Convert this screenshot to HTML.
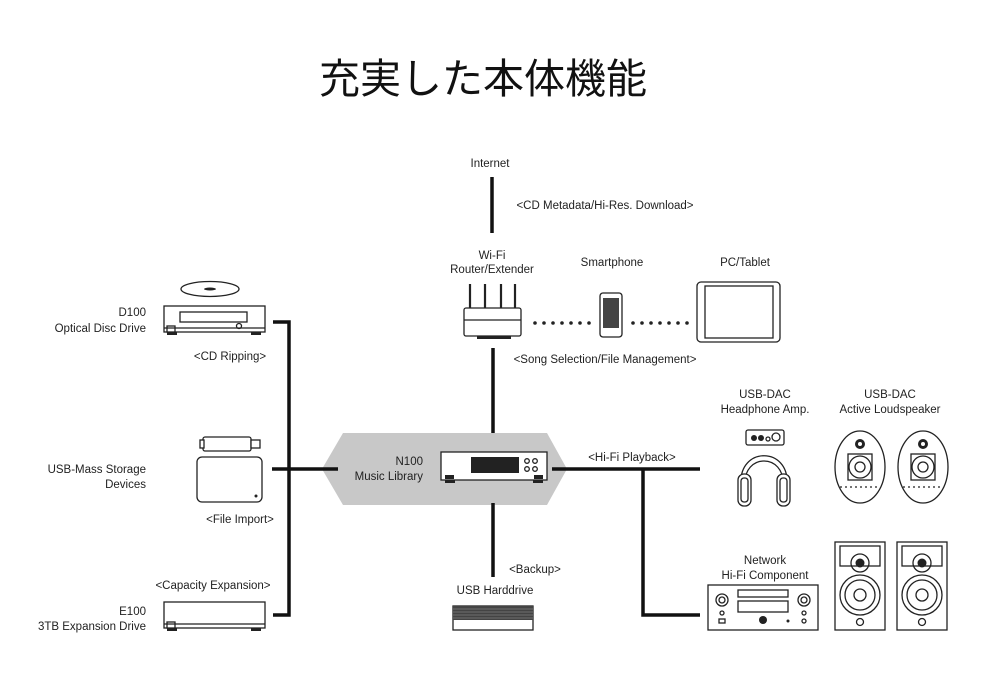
<!DOCTYPE html>
<html><head><meta charset="utf-8"><style>
html,body{margin:0;padding:0;background:#fff;}
svg{display:block;}
text{font-family:"Liberation Sans","Noto Sans CJK JP",sans-serif;fill:#222;font-size:11.5px;}
.s{fill:none;stroke:#222;stroke-width:1.3;}
.w{fill:#fff;stroke:#222;stroke-width:1.3;}
.k{fill:#222;}
</style></head><body>
<svg width="1000" height="700" viewBox="0 0 1000 700" xmlns="http://www.w3.org/2000/svg">
<text x="483" y="93" text-anchor="middle" style="font-size:41px;font-family:'Noto Sans CJK JP',sans-serif;fill:#111">充実した本体機能</text>

<polygon points="322,469 343,433 547,433 567,469 547,505 343,505" fill="#c8c8c8"/>

<g stroke="#111" stroke-width="3.5" fill="none">
<line x1="492" y1="177" x2="492" y2="233"/>
<line x1="493" y1="348" x2="493" y2="433"/>
<line x1="493" y1="503" x2="493" y2="577"/>
<polyline points="273,322 289,322 289,615 273,615"/>
<line x1="272" y1="469" x2="338" y2="469"/>
<line x1="552" y1="469" x2="700" y2="469"/>
<polyline points="643,469 643,615 700,615"/>
</g>
<g class="k">
<circle cx="535" cy="323" r="1.8"/><circle cx="544" cy="323" r="1.8"/><circle cx="553" cy="323" r="1.8"/><circle cx="562" cy="323" r="1.8"/><circle cx="571" cy="323" r="1.8"/><circle cx="580" cy="323" r="1.8"/><circle cx="589" cy="323" r="1.8"/>
<circle cx="633" cy="323" r="1.8"/><circle cx="642" cy="323" r="1.8"/><circle cx="651" cy="323" r="1.8"/><circle cx="660" cy="323" r="1.8"/><circle cx="669" cy="323" r="1.8"/><circle cx="678" cy="323" r="1.8"/><circle cx="687" cy="323" r="1.8"/>
</g>

<text x="490" y="167" text-anchor="middle">Internet</text>
<text x="605" y="209" text-anchor="middle">&lt;CD Metadata/Hi-Res. Download&gt;</text>
<text x="492" y="259" text-anchor="middle">Wi-Fi</text>
<text x="492" y="273" text-anchor="middle">Router/Extender</text>
<text x="612" y="266" text-anchor="middle">Smartphone</text>
<text x="745" y="266" text-anchor="middle">PC/Tablet</text>
<text x="605" y="363" text-anchor="middle">&lt;Song Selection/File Management&gt;</text>
<text x="632" y="461" text-anchor="middle">&lt;Hi-Fi Playback&gt;</text>
<text x="765" y="398" text-anchor="middle">USB-DAC</text>
<text x="765" y="413" text-anchor="middle">Headphone Amp.</text>
<text x="890" y="398" text-anchor="middle">USB-DAC</text>
<text x="890" y="413" text-anchor="middle">Active Loudspeaker</text>
<text x="765" y="564" text-anchor="middle">Network</text>
<text x="765" y="579" text-anchor="middle">Hi-Fi Component</text>
<text x="535" y="573" text-anchor="middle">&lt;Backup&gt;</text>
<text x="495" y="594" text-anchor="middle">USB Harddrive</text>
<text x="423" y="465" text-anchor="end">N100</text>
<text x="423" y="480" text-anchor="end">Music Library</text>
<text x="146" y="316" text-anchor="end">D100</text>
<text x="146" y="332" text-anchor="end">Optical Disc Drive</text>
<text x="230" y="360" text-anchor="middle">&lt;CD Ripping&gt;</text>
<text x="146" y="473" text-anchor="end">USB-Mass Storage</text>
<text x="146" y="488" text-anchor="end">Devices</text>
<text x="240" y="523" text-anchor="middle">&lt;File Import&gt;</text>
<text x="213" y="589" text-anchor="middle">&lt;Capacity Expansion&gt;</text>
<text x="146" y="615" text-anchor="end">E100</text>
<text x="146" y="630" text-anchor="end">3TB Expansion Drive</text>

<ellipse cx="210" cy="289" rx="29" ry="7.5" class="w"/>
<ellipse cx="210" cy="289" rx="6" ry="1.5" class="k"/>
<rect x="164" y="306" width="101" height="26" class="w"/>
<rect x="180" y="312" width="67" height="10" class="w"/>
<rect x="167" y="326" width="8" height="6" class="w"/>
<circle cx="239" cy="326" r="2.5" class="w"/>
<line x1="164" y1="328" x2="265" y2="328" class="s"/>
<rect x="167" y="332" width="10" height="3" class="k"/><rect x="251" y="332" width="10" height="3" class="k"/>

<rect x="203" y="437" width="48" height="14" rx="2" class="w"/>
<rect x="200" y="440" width="4" height="8" class="w"/>
<rect x="251" y="440" width="9" height="8" class="w"/>
<rect x="197" y="457" width="65" height="45" rx="5" class="w"/>
<circle cx="256" cy="496" r="1.5" class="k"/>

<rect x="164" y="602" width="101" height="26" class="w"/>
<rect x="167" y="622" width="8" height="6" class="w"/>
<line x1="164" y1="624" x2="265" y2="624" class="s"/>
<rect x="167" y="628" width="10" height="3" class="k"/><rect x="251" y="628" width="10" height="3" class="k"/>

<g stroke="#222" stroke-width="2.2"><line x1="470" y1="284" x2="470" y2="308"/><line x1="485" y1="284" x2="485" y2="308"/><line x1="501" y1="284" x2="501" y2="308"/><line x1="515" y1="284" x2="515" y2="308"/></g>
<rect x="464" y="308" width="57" height="28" rx="2" class="w"/>
<line x1="464" y1="320" x2="521" y2="320" class="s"/>
<rect x="477" y="336" width="34" height="3" class="k"/>

<rect x="600" y="293" width="22" height="44" rx="3" class="w"/>
<rect x="603" y="298" width="16" height="30" fill="#444"/>

<rect x="697" y="282" width="83" height="60" rx="4" class="w"/>
<rect x="705" y="286" width="68" height="52" class="s"/>

<rect x="441" y="452" width="106" height="28" class="w" stroke-width="2"/>
<rect x="471" y="457" width="48" height="16" class="k"/>
<circle cx="527" cy="461" r="2.3" class="s"/><circle cx="535" cy="461" r="2.3" class="s"/><circle cx="527" cy="469" r="2.3" class="s"/><circle cx="535" cy="469" r="2.3" class="s"/>
<rect x="445" y="475" width="9" height="4" class="k"/><rect x="534" y="475" width="9" height="4" class="k"/>
<rect x="445" y="480" width="10" height="3" class="k"/><rect x="533" y="480" width="10" height="3" class="k"/>

<rect x="453" y="606" width="80" height="24" class="w"/>
<rect x="453" y="606" width="80" height="14" fill="#444"/>
<g stroke="#999" stroke-width="0.6"><line x1="453" y1="609" x2="533" y2="609"/><line x1="453" y1="612" x2="533" y2="612"/><line x1="453" y1="615" x2="533" y2="615"/><line x1="453" y1="618" x2="533" y2="618"/></g>

<rect x="746" y="430" width="38" height="15" rx="2" class="w"/>
<circle cx="754" cy="438" r="3" class="k"/><circle cx="761" cy="438" r="3" class="k"/><circle cx="768" cy="439" r="2" class="s"/><circle cx="776" cy="437" r="4" class="s"/>
<path d="M741,485 C738,446 790,446 787,485" class="s" stroke-width="1.8"/>
<path d="M745,485 C743,453 785,453 783,485" class="s"/>
<rect x="738" y="474" width="13" height="32" rx="6" class="w" stroke-width="1.5"/>
<rect x="777" y="474" width="13" height="32" rx="6" class="w" stroke-width="1.5"/>
<rect x="741" y="478" width="7" height="24" rx="3" class="s"/>
<rect x="780" y="478" width="7" height="24" rx="3" class="s"/>

<g id="as">
<ellipse cx="860" cy="467" rx="25" ry="36" class="w" stroke-width="1.6"/>
<circle cx="860" cy="444" r="5" class="k"/><circle cx="860" cy="444" r="2" fill="#fff"/>
<rect x="848" y="454" width="24" height="26" class="s"/>
<circle cx="860" cy="467" r="11" class="s" stroke-width="2.5"/><circle cx="860" cy="467" r="5" class="s"/>
<line x1="840" y1="487" x2="880" y2="487" class="s" stroke-dasharray="2,3"/>
</g>
<use href="#as" x="63"/>

<rect x="708" y="585" width="110" height="45" class="w"/>
<rect x="738" y="590" width="50" height="7" class="w"/>
<rect x="738" y="601" width="50" height="11" class="w"/>
<circle cx="722" cy="600" r="6" class="s"/><circle cx="722" cy="600" r="3" class="s"/>
<circle cx="804" cy="600" r="6" class="s"/><circle cx="804" cy="600" r="3" class="s"/>
<circle cx="763" cy="620" r="4" class="k"/><circle cx="788" cy="621" r="1.5" class="k"/>
<circle cx="722" cy="613" r="2" class="s"/><circle cx="804" cy="613" r="2" class="s"/><circle cx="804" cy="621" r="2" class="s"/>
<rect x="719" y="619" width="6" height="4" class="s"/>

<g id="bs">
<rect x="835" y="542" width="50" height="88" class="w" stroke-width="1.5"/>
<rect x="840" y="546" width="40" height="20" class="s"/>
<circle cx="860" cy="563" r="9" class="s" stroke-width="2"/><circle cx="860" cy="563" r="4.5" class="k"/>
<circle cx="860" cy="595" r="20" class="s" stroke-width="3"/><circle cx="860" cy="595" r="15" class="s"/><circle cx="860" cy="595" r="6" class="s"/>
<circle cx="860" cy="622" r="3.5" class="s"/>
</g>
<use href="#bs" x="62"/>
</svg>
</body></html>
